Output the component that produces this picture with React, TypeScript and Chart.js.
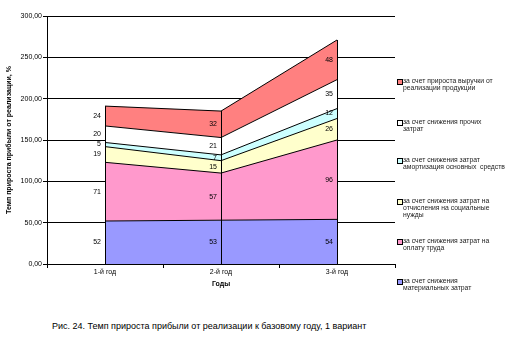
import React, { useEffect, useRef } from "react";
import { Chart, registerables } from "chart.js";

Chart.register(...registerables);

const categories = ["1-й год", "2-й год", "3-й год"];
const seriesNames = [
  "за счет снижения материальных затрат",
  "за счет снижения затрат на оплату труда",
  "за счет снижения затрат на отчисления на социальные нужды",
  "за счет снижения затрат амортизация основных средств",
  "за счет снижения прочих затрат",
  "за счет прироста выручки от реализации продукции",
];
const materials = [52, 53, 54];
const labor = [71, 57, 96];
const social = [19, 15, 26];
const depreciation = [5, 7, 12];
const other = [20, 21, 35];
const revenue = [24, 32, 48];
const seriesValues = [materials, labor, social, depreciation, other, revenue];
const seriesColors = ["#9999FF", "#FF99CC", "#FFFFCC", "#CCFFFF", "#FFFFFF", "#FF8080"];

// legend lines (top to bottom), with matching series index
const legendItems: { idx: number; lines: string[] }[] = [
  { idx: 5, lines: ["за счет прироста выручки от", "реализации продукции"] },
  { idx: 4, lines: ["за счет снижения прочих", "затрат"] },
  { idx: 3, lines: ["за счет снижения затрат", "амортизация основных  средств"] },
  { idx: 2, lines: ["за счет снижения затрат на", "отчисления на социальные", "нужды"] },
  { idx: 1, lines: ["за счет снижения затрат на", "оплату труда"] },
  { idx: 0, lines: ["за счет снижения", "материальных затрат"] },
];
const legendTops = [77, 118, 156, 197, 237, 277];

const yTitle = "Темп прироста прибыли от реализации, %";
const xTitle = "Годы";
const caption = "Рис. 24. Темп прироста прибыли от реализации к базовому году, 1 вариант";

const FONT = "'Liberation Sans', Arial, sans-serif";

export default function App() {
  const ref = useRef<HTMLCanvasElement | null>(null);
  useEffect(() => {
    if (!ref.current) return;
    const labelPlugin = {
      id: "stackLabels",
      afterDatasetsDraw(chart: any) {
        const ctx = chart.ctx;
        const xs = chart.scales.x;
        const ys = chart.scales.y;
        ctx.save();
        ctx.strokeStyle = "#000";
        ctx.lineWidth = 1;
        for (let j = 0; j < categories.length; j++) {
          let total = 0;
          for (const s of seriesValues) total += s[j];
          const x = Math.round(xs.getPixelForValue(j)) + 0.5;
          ctx.beginPath();
          ctx.moveTo(x, ys.getPixelForValue(0));
          ctx.lineTo(x, ys.getPixelForValue(total));
          ctx.stroke();
        }
        ctx.font = `7px ${FONT}`;
        ctx.fillStyle = "#000";
        ctx.textAlign = "right";
        ctx.textBaseline = "middle";
        for (let j = 0; j < categories.length; j++) {
          let base = 0;
          for (const s of seriesValues) {
            const v = s[j];
            const y = ys.getPixelForValue(base + v / 2);
            ctx.fillText(String(v), xs.getPixelForValue(j) - 4, y);
            base += v;
          }
        }
        ctx.restore();
      },
    };
    const chart = new Chart(ref.current, {
      type: "line",
      data: {
        labels: categories,
        datasets: seriesValues.map((vals, i) => ({
          label: seriesNames[i],
          data: vals,
          backgroundColor: seriesColors[i],
          borderColor: "#000",
          borderWidth: 1,
          pointRadius: 0,
          tension: 0,
          fill: i === 0 ? "origin" : "-1",
        })),
      },
      options: {
        animation: false,
        responsive: false,
        maintainAspectRatio: false,
        layout: { padding: { top: 16, right: 119, left: 0, bottom: 0 } },
        plugins: { legend: { display: false }, tooltip: { enabled: false } },
        scales: {
          x: {
            offset: true,
            afterFit: (s: any) => {
              s.height = 36;
            },
            grid: { drawOnChartArea: false, offset: true, tickLength: 4, color: "#000" },
            border: { color: "#000" },
            ticks: { font: { size: 7, family: FONT }, color: "#000", padding: 0, maxRotation: 0 },
            title: {
              display: true,
              text: xTitle,
              font: { size: 7, family: FONT, weight: "bold" },
              color: "#000",
              padding: { top: 0, bottom: 12 },
            },
          },
          y: {
            stacked: true,
            min: 0,
            max: 300,
            afterFit: (s: any) => {
              s.width = 47;
            },
            grid: { color: "#000", tickLength: 4 },
            border: { color: "#000" },
            ticks: {
              stepSize: 50,
              font: { size: 7, family: FONT },
              color: "#000",
              padding: 1,
              callback: (v: any) => Number(v).toFixed(2).replace(".", ","),
            },
            title: {
              display: true,
              text: yTitle,
              font: { size: 7, family: FONT, weight: "bold" },
              color: "#000",
              padding: { top: 5, bottom: 0 },
            },
          },
        },
      },
      plugins: [labelPlugin],
    });
    return () => chart.destroy();
  }, []);

  return (
    <div
      style={{
        position: "fixed",
        left: 0,
        top: 0,
        width: 514,
        height: 341,
        background: "#fff",
        fontFamily: FONT,
        color: "#000",
      }}
    >
      <canvas ref={ref} width={514} height={300} style={{ position: "absolute", left: 0, top: 0 }} />
      {legendItems.map((item, k) => (
        <div key={k} style={{ position: "absolute", left: 397, top: legendTops[k] }}>
          <div
            style={{
              position: "absolute",
              left: 0,
              top: 2,
              width: 4,
              height: 4,
              border: "1px solid #000",
              background: seriesColors[item.idx],
            }}
          />
          <div
            style={{
              position: "absolute",
              left: 6,
              top: 0,
              fontSize: 6.8,
              lineHeight: "7px",
              whiteSpace: "pre",
              color: "#222",
            }}
          >
            {item.lines.join("\n")}
          </div>
        </div>
      ))}
      <div
        style={{
          position: "absolute",
          left: 52,
          top: 321,
          fontSize: 9,
          lineHeight: "10px",
          whiteSpace: "nowrap",
        }}
      >
        {caption}
      </div>
    </div>
  );
}
